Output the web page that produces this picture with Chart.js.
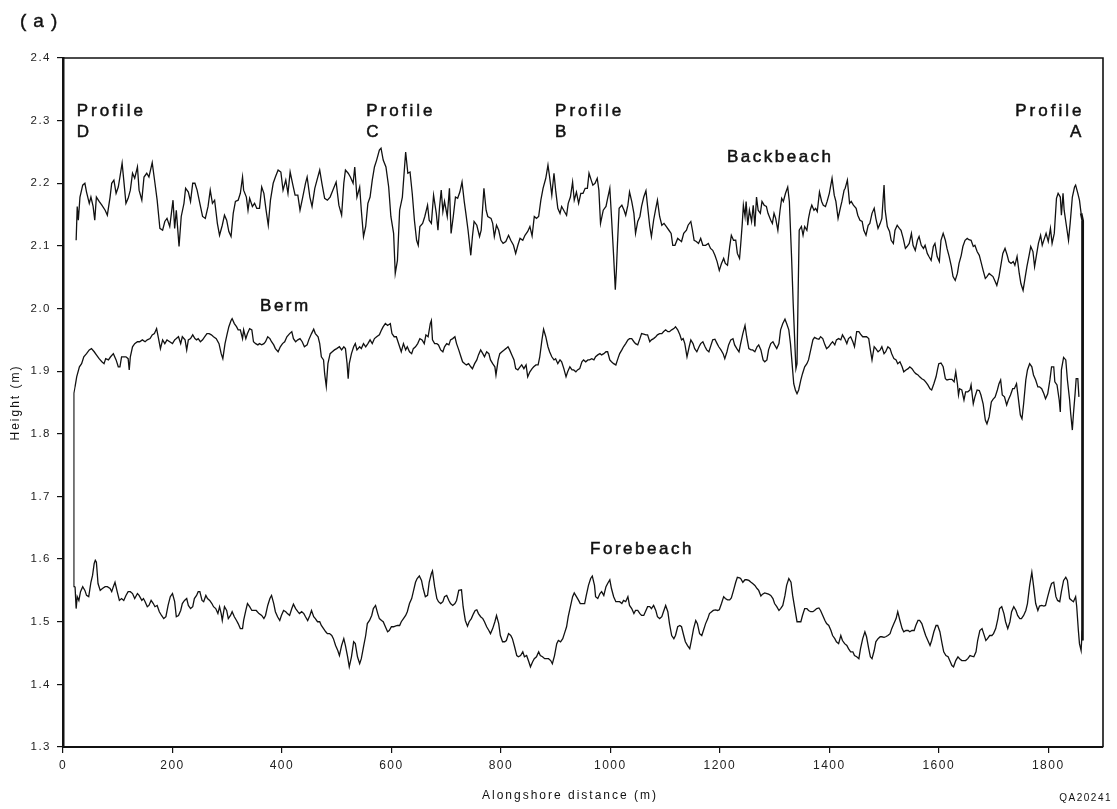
<!DOCTYPE html>
<html><head><meta charset="utf-8">
<script src="https://cdn.jsdelivr.net/npm/chart.js@4.4.1/dist/chart.umd.min.js"></script>
<style>html,body{margin:0;padding:0;background:#fff;}canvas{display:block;}</style>
</head><body>
<canvas id="c" width="1117" height="809"></canvas>
<script>
// [alongshore distance (m), height (m)]
const backbeach = [[24,2.109],[26,2.163],[28,2.141],[31,2.178],[36,2.197],[40,2.200],[43,2.186],[48,2.168],[51,2.178],[55,2.163],[58,2.141],[61,2.178],[66,2.171],[71,2.165],[77,2.157],[81,2.149],[86,2.178],[89,2.200],[93,2.205],[97,2.184],[101,2.194],[104,2.210],[108,2.232],[111,2.205],[115,2.168],[119,2.176],[123,2.189],[127,2.216],[131,2.208],[136,2.226],[139,2.189],[144,2.173],[148,2.210],[153,2.216],[157,2.210],[163,2.233],[168,2.200],[172,2.173],[177,2.128],[182,2.125],[186,2.139],[190,2.144],[195,2.131],[198,2.152],[201,2.173],[204,2.128],[207,2.157],[212,2.099],[216,2.147],[221,2.168],[224,2.192],[229,2.186],[233,2.171],[237,2.200],[241,2.200],[245,2.189],[250,2.168],[255,2.147],[260,2.144],[265,2.163],[269,2.189],[273,2.168],[277,2.173],[282,2.136],[286,2.117],[291,2.133],[295,2.149],[299,2.141],[303,2.123],[307,2.115],[311,2.152],[315,2.171],[320,2.173],[324,2.184],[328,2.210],[330,2.189],[335,2.178],[338,2.157],[341,2.176],[346,2.163],[350,2.168],[354,2.160],[359,2.160],[363,2.194],[367,2.184],[371,2.157],[375,2.133],[379,2.173],[384,2.200],[388,2.210],[393,2.221],[398,2.218],[402,2.189],[407,2.205],[411,2.184],[415,2.218],[420,2.197],[424,2.181],[429,2.181],[433,2.157],[438,2.178],[443,2.200],[446,2.210],[451,2.178],[455,2.163],[460,2.192],[464,2.205],[469,2.221],[473,2.200],[478,2.176],[483,2.173],[488,2.178],[493,2.189],[499,2.202],[504,2.165],[509,2.149],[513,2.200],[516,2.221],[521,2.216],[525,2.210],[530,2.200],[533,2.226],[537,2.178],[542,2.194],[545,2.157],[549,2.115],[553,2.131],[557,2.168],[561,2.178],[565,2.205],[569,2.226],[573,2.237],[578,2.253],[581,2.256],[585,2.237],[590,2.226],[595,2.194],[599,2.147],[604,2.120],[607,2.056],[611,2.077],[615,2.157],[620,2.178],[626,2.250],[630,2.216],[634,2.218],[638,2.184],[642,2.141],[646,2.109],[649,2.101],[652,2.131],[657,2.136],[661,2.147],[666,2.165],[669,2.141],[673,2.136],[677,2.181],[682,2.152],[685,2.125],[688,2.163],[691,2.189],[694,2.155],[697,2.171],[702,2.147],[706,2.192],[709,2.120],[713,2.147],[717,2.178],[721,2.176],[725,2.186],[729,2.202],[733,2.171],[736,2.152],[740,2.125],[745,2.085],[748,2.115],[751,2.139],[756,2.133],[761,2.115],[764,2.125],[769,2.192],[773,2.157],[776,2.147],[782,2.144],[785,2.136],[788,2.115],[792,2.133],[796,2.125],[800,2.109],[804,2.104],[809,2.107],[814,2.117],[818,2.109],[823,2.101],[827,2.088],[831,2.101],[835,2.112],[840,2.109],[844,2.117],[849,2.123],[853,2.131],[857,2.116],[861,2.147],[865,2.144],[869,2.147],[873,2.173],[877,2.192],[882,2.208],[886,2.229],[889,2.210],[893,2.181],[897,2.216],[900,2.189],[904,2.160],[908,2.152],[911,2.163],[916,2.155],[920,2.149],[923,2.168],[927,2.178],[931,2.202],[934,2.173],[938,2.186],[942,2.168],[946,2.184],[950,2.184],[954,2.192],[958,2.192],[961,2.216],[965,2.205],[968,2.197],[972,2.200],[976,2.208],[979,2.189],[982,2.136],[987,2.157],[992,2.163],[995,2.176],[999,2.192],[1002,2.147],[1006,2.083],[1009,2.030],[1011,2.061],[1013,2.104],[1016,2.160],[1021,2.165],[1025,2.157],[1028,2.149],[1032,2.165],[1035,2.186],[1039,2.171],[1043,2.152],[1046,2.120],[1050,2.139],[1054,2.147],[1057,2.163],[1061,2.178],[1065,2.188],[1068,2.163],[1072,2.131],[1075,2.115],[1079,2.141],[1083,2.160],[1086,2.173],[1090,2.147],[1094,2.133],[1098,2.136],[1102,2.131],[1107,2.125],[1111,2.120],[1114,2.101],[1118,2.101],[1123,2.112],[1127,2.109],[1130,2.107],[1134,2.120],[1139,2.125],[1142,2.133],[1147,2.139],[1150,2.125],[1153,2.109],[1157,2.107],[1161,2.104],[1165,2.112],[1169,2.101],[1174,2.101],[1179,2.104],[1183,2.096],[1187,2.093],[1191,2.085],[1195,2.075],[1199,2.061],[1203,2.072],[1207,2.080],[1210,2.072],[1214,2.069],[1218,2.099],[1221,2.117],[1225,2.109],[1229,2.109],[1232,2.088],[1236,2.080],[1238,2.101],[1241,2.136],[1243,2.165],[1246,2.147],[1248,2.171],[1251,2.133],[1254,2.157],[1258,2.139],[1261,2.165],[1264,2.131],[1267,2.178],[1270,2.157],[1274,2.152],[1277,2.171],[1281,2.165],[1285,2.163],[1288,2.152],[1293,2.141],[1296,2.136],[1299,2.152],[1302,2.144],[1306,2.125],[1310,2.157],[1313,2.176],[1316,2.171],[1320,2.184],[1324,2.194],[1327,2.171],[1331,2.083],[1334,2.008],[1337,1.944],[1339,1.904],[1341,1.912],[1343,2.024],[1345,2.125],[1349,2.131],[1352,2.117],[1355,2.131],[1359,2.125],[1362,2.144],[1365,2.157],[1368,2.165],[1372,2.157],[1375,2.160],[1378,2.155],[1382,2.186],[1386,2.171],[1389,2.165],[1393,2.163],[1396,2.171],[1400,2.184],[1405,2.208],[1409,2.181],[1412,2.171],[1416,2.144],[1420,2.160],[1423,2.171],[1427,2.189],[1429,2.192],[1433,2.205],[1437,2.168],[1440,2.171],[1444,2.165],[1449,2.160],[1452,2.149],[1456,2.141],[1460,2.139],[1463,2.125],[1467,2.117],[1471,2.133],[1474,2.136],[1478,2.152],[1482,2.160],[1485,2.144],[1489,2.128],[1493,2.136],[1496,2.144],[1500,2.197],[1502,2.157],[1506,2.131],[1510,2.123],[1513,2.109],[1517,2.104],[1520,2.125],[1524,2.133],[1528,2.128],[1531,2.125],[1535,2.112],[1539,2.096],[1542,2.099],[1546,2.104],[1550,2.120],[1553,2.101],[1557,2.093],[1561,2.109],[1564,2.115],[1568,2.101],[1572,2.096],[1575,2.101],[1579,2.088],[1582,2.083],[1586,2.077],[1590,2.099],[1593,2.104],[1597,2.083],[1601,2.075],[1604,2.109],[1608,2.120],[1612,2.109],[1615,2.096],[1619,2.083],[1623,2.067],[1626,2.051],[1630,2.045],[1634,2.056],[1637,2.072],[1641,2.085],[1644,2.099],[1648,2.109],[1652,2.112],[1655,2.110],[1659,2.109],[1663,2.099],[1666,2.101],[1670,2.091],[1674,2.085],[1677,2.075],[1681,2.061],[1685,2.048],[1688,2.051],[1692,2.056],[1696,2.053],[1699,2.051],[1703,2.043],[1706,2.037],[1710,2.051],[1714,2.072],[1717,2.088],[1721,2.096],[1725,2.085],[1728,2.075],[1732,2.072],[1736,2.075],[1739,2.069],[1743,2.083],[1747,2.056],[1750,2.040],[1754,2.029],[1758,2.051],[1761,2.067],[1765,2.085],[1768,2.099],[1772,2.091],[1775,2.067],[1778,2.083],[1782,2.104],[1786,2.117],[1789,2.101],[1793,2.112],[1796,2.120],[1800,2.107],[1804,2.128],[1807,2.104],[1811,2.120],[1815,2.176],[1818,2.184],[1822,2.178],[1824,2.149],[1827,2.184],[1829,2.157],[1833,2.133],[1837,2.109],[1840,2.136],[1844,2.178],[1848,2.194],[1850,2.197],[1854,2.184],[1857,2.173],[1860,2.152]];

const berm = [[22,1.875],[25,1.891],[30,1.907],[34,1.912],[38,1.923],[43,1.928],[48,1.934],[52,1.936],[57,1.931],[61,1.926],[66,1.920],[71,1.915],[75,1.912],[78,1.920],[83,1.918],[87,1.923],[92,1.928],[97,1.918],[101,1.907],[104,1.907],[107,1.923],[111,1.923],[115,1.923],[119,1.920],[121,1.902],[123,1.923],[127,1.939],[131,1.944],[136,1.947],[140,1.947],[145,1.950],[150,1.947],[154,1.950],[159,1.952],[163,1.958],[167,1.960],[171,1.968],[175,1.950],[178,1.936],[182,1.950],[186,1.944],[190,1.950],[195,1.947],[200,1.944],[204,1.950],[207,1.952],[211,1.955],[215,1.944],[218,1.955],[223,1.950],[226,1.934],[229,1.950],[233,1.952],[237,1.958],[241,1.952],[244,1.950],[247,1.952],[251,1.947],[255,1.950],[259,1.955],[263,1.960],[267,1.960],[271,1.958],[275,1.955],[280,1.952],[285,1.944],[289,1.928],[292,1.920],[296,1.944],[300,1.960],[303,1.971],[307,1.981],[309,1.984],[313,1.976],[317,1.971],[320,1.966],[324,1.966],[328,1.952],[330,1.966],[334,1.952],[337,1.960],[341,1.968],[345,1.966],[348,1.947],[352,1.944],[356,1.942],[359,1.944],[363,1.942],[367,1.944],[370,1.947],[374,1.955],[378,1.952],[381,1.947],[385,1.942],[388,1.936],[393,1.931],[397,1.939],[401,1.944],[405,1.947],[409,1.955],[414,1.960],[418,1.963],[421,1.952],[425,1.947],[429,1.950],[433,1.952],[437,1.947],[441,1.939],[446,1.942],[449,1.950],[454,1.960],[458,1.967],[461,1.960],[466,1.955],[469,1.944],[472,1.923],[476,1.918],[478,1.896],[481,1.876],[484,1.912],[488,1.928],[492,1.931],[496,1.934],[500,1.936],[505,1.939],[509,1.934],[513,1.939],[516,1.936],[519,1.912],[521,1.888],[523,1.912],[527,1.928],[531,1.939],[534,1.944],[537,1.934],[542,1.939],[545,1.936],[549,1.944],[553,1.939],[557,1.944],[561,1.950],[565,1.944],[569,1.952],[573,1.955],[578,1.958],[582,1.966],[585,1.971],[589,1.976],[593,1.973],[598,1.976],[601,1.960],[605,1.955],[609,1.955],[612,1.947],[615,1.939],[618,1.931],[622,1.944],[626,1.934],[629,1.939],[633,1.931],[637,1.928],[640,1.936],[644,1.939],[648,1.944],[652,1.952],[656,1.950],[660,1.944],[663,1.958],[667,1.955],[671,1.976],[673,1.981],[675,1.950],[679,1.944],[683,1.944],[686,1.942],[690,1.934],[694,1.931],[697,1.939],[701,1.944],[705,1.942],[708,1.950],[712,1.952],[716,1.955],[719,1.944],[723,1.934],[727,1.923],[730,1.915],[734,1.912],[737,1.910],[741,1.912],[745,1.907],[748,1.904],[752,1.912],[756,1.918],[759,1.926],[763,1.934],[767,1.928],[770,1.923],[774,1.931],[778,1.928],[781,1.918],[785,1.912],[789,1.907],[791,1.894],[795,1.918],[798,1.928],[802,1.931],[806,1.934],[809,1.936],[813,1.939],[816,1.934],[820,1.926],[824,1.918],[827,1.904],[831,1.902],[835,1.907],[838,1.910],[842,1.904],[846,1.910],[849,1.891],[853,1.899],[857,1.904],[860,1.907],[864,1.910],[868,1.910],[871,1.923],[875,1.950],[878,1.967],[882,1.955],[886,1.939],[889,1.931],[893,1.923],[897,1.918],[900,1.920],[904,1.912],[908,1.918],[911,1.915],[915,1.904],[919,1.891],[922,1.899],[926,1.907],[930,1.902],[933,1.902],[937,1.899],[940,1.902],[944,1.904],[948,1.915],[951,1.918],[955,1.915],[959,1.918],[962,1.918],[966,1.920],[970,1.918],[973,1.923],[977,1.926],[981,1.928],[984,1.926],[988,1.928],[992,1.931],[995,1.931],[999,1.918],[1002,1.915],[1006,1.912],[1010,1.910],[1013,1.918],[1017,1.928],[1021,1.934],[1024,1.939],[1028,1.944],[1032,1.950],[1035,1.952],[1039,1.952],[1043,1.947],[1046,1.944],[1050,1.942],[1054,1.952],[1057,1.960],[1061,1.959],[1065,1.958],[1068,1.958],[1072,1.947],[1075,1.950],[1079,1.952],[1083,1.955],[1086,1.958],[1090,1.960],[1094,1.960],[1097,1.963],[1101,1.966],[1105,1.963],[1108,1.963],[1112,1.966],[1116,1.968],[1119,1.971],[1123,1.966],[1127,1.958],[1130,1.950],[1133,1.952],[1136,1.944],[1140,1.923],[1144,1.939],[1147,1.950],[1151,1.944],[1154,1.936],[1158,1.931],[1162,1.939],[1165,1.944],[1169,1.947],[1173,1.939],[1176,1.934],[1180,1.931],[1184,1.942],[1187,1.950],[1191,1.951],[1195,1.944],[1198,1.939],[1202,1.934],[1206,1.928],[1209,1.920],[1213,1.931],[1216,1.942],[1220,1.950],[1224,1.952],[1227,1.942],[1231,1.936],[1235,1.931],[1238,1.944],[1242,1.960],[1246,1.973],[1249,1.955],[1253,1.936],[1257,1.934],[1260,1.934],[1264,1.931],[1268,1.939],[1271,1.942],[1275,1.934],[1279,1.918],[1282,1.915],[1286,1.918],[1289,1.934],[1293,1.944],[1297,1.947],[1300,1.942],[1304,1.936],[1308,1.944],[1311,1.966],[1315,1.976],[1319,1.983],[1322,1.976],[1326,1.966],[1329,1.944],[1332,1.912],[1335,1.880],[1338,1.870],[1341,1.864],[1344,1.870],[1348,1.886],[1351,1.896],[1355,1.907],[1359,1.912],[1362,1.918],[1366,1.934],[1370,1.950],[1373,1.954],[1377,1.952],[1381,1.951],[1384,1.955],[1388,1.952],[1392,1.942],[1395,1.936],[1399,1.939],[1403,1.944],[1406,1.947],[1410,1.942],[1413,1.950],[1417,1.952],[1421,1.950],[1424,1.958],[1428,1.952],[1432,1.944],[1435,1.952],[1439,1.955],[1443,1.947],[1446,1.939],[1450,1.963],[1454,1.963],[1457,1.959],[1461,1.955],[1465,1.955],[1468,1.955],[1472,1.952],[1475,1.934],[1478,1.918],[1482,1.939],[1485,1.936],[1489,1.931],[1493,1.934],[1496,1.939],[1500,1.928],[1503,1.931],[1507,1.939],[1511,1.936],[1514,1.928],[1518,1.920],[1522,1.918],[1525,1.912],[1529,1.915],[1533,1.907],[1536,1.899],[1540,1.902],[1544,1.904],[1547,1.907],[1551,1.904],[1555,1.899],[1558,1.896],[1562,1.894],[1565,1.891],[1569,1.888],[1573,1.886],[1576,1.883],[1580,1.878],[1584,1.872],[1587,1.870],[1591,1.880],[1595,1.891],[1598,1.904],[1600,1.912],[1604,1.913],[1608,1.907],[1612,1.888],[1615,1.886],[1619,1.887],[1624,1.887],[1628,1.883],[1631,1.899],[1634,1.880],[1636,1.862],[1638,1.872],[1642,1.870],[1646,1.854],[1649,1.867],[1653,1.867],[1657,1.870],[1659,1.878],[1663,1.848],[1666,1.859],[1670,1.870],[1674,1.869],[1677,1.862],[1681,1.848],[1685,1.822],[1688,1.816],[1692,1.827],[1696,1.851],[1699,1.855],[1703,1.859],[1707,1.870],[1710,1.880],[1713,1.886],[1716,1.862],[1720,1.859],[1724,1.846],[1727,1.854],[1731,1.862],[1735,1.872],[1738,1.872],[1742,1.880],[1745,1.859],[1749,1.830],[1752,1.824],[1755,1.848],[1759,1.886],[1762,1.902],[1766,1.912],[1770,1.907],[1773,1.894],[1777,1.886],[1781,1.875],[1784,1.875],[1788,1.872],[1792,1.864],[1795,1.856],[1799,1.864],[1803,1.886],[1806,1.907],[1810,1.907],[1812,1.883],[1816,1.878],[1820,1.854],[1822,1.835],[1824,1.902],[1828,1.922],[1832,1.918],[1835,1.886],[1839,1.854],[1841,1.832],[1844,1.806],[1846,1.832],[1849,1.864],[1851,1.888],[1854,1.888],[1856,1.859]];

const forebeach = [[22,1.556],[24,1.521],[26,1.540],[29,1.534],[32,1.548],[36,1.556],[40,1.550],[43,1.542],[47,1.540],[51,1.563],[54,1.574],[57,1.593],[59,1.598],[61,1.595],[64,1.561],[68,1.550],[72,1.553],[77,1.556],[81,1.556],[86,1.553],[89,1.548],[92,1.556],[95,1.563],[99,1.548],[103,1.534],[107,1.537],[111,1.534],[115,1.542],[119,1.548],[123,1.548],[127,1.545],[131,1.537],[136,1.545],[139,1.542],[144,1.534],[147,1.537],[150,1.532],[154,1.524],[157,1.526],[161,1.534],[165,1.529],[168,1.524],[172,1.526],[176,1.516],[180,1.510],[184,1.505],[188,1.508],[192,1.526],[196,1.540],[200,1.545],[204,1.532],[207,1.508],[211,1.510],[215,1.518],[218,1.529],[222,1.534],[226,1.537],[229,1.526],[233,1.521],[237,1.524],[240,1.537],[244,1.542],[247,1.548],[250,1.548],[254,1.534],[257,1.532],[261,1.542],[264,1.537],[268,1.534],[272,1.529],[275,1.524],[279,1.521],[283,1.513],[286,1.524],[289,1.513],[291,1.502],[295,1.524],[299,1.518],[302,1.505],[306,1.510],[309,1.516],[313,1.508],[317,1.502],[320,1.497],[324,1.489],[328,1.489],[330,1.502],[334,1.518],[337,1.529],[341,1.524],[345,1.518],[348,1.518],[353,1.518],[358,1.513],[363,1.510],[367,1.505],[370,1.510],[374,1.526],[378,1.537],[381,1.542],[385,1.529],[388,1.516],[392,1.508],[396,1.502],[399,1.510],[403,1.518],[407,1.516],[410,1.513],[414,1.510],[418,1.521],[421,1.528],[425,1.521],[429,1.516],[432,1.513],[436,1.516],[440,1.513],[443,1.508],[447,1.502],[451,1.510],[454,1.518],[458,1.508],[461,1.505],[465,1.500],[469,1.500],[472,1.494],[476,1.489],[480,1.484],[483,1.481],[487,1.481],[491,1.478],[494,1.473],[498,1.462],[502,1.454],[505,1.446],[509,1.462],[513,1.473],[516,1.462],[520,1.444],[523,1.428],[527,1.444],[531,1.468],[534,1.465],[538,1.444],[542,1.433],[545,1.441],[549,1.460],[553,1.478],[556,1.497],[560,1.502],[564,1.510],[567,1.521],[571,1.526],[575,1.513],[578,1.505],[582,1.502],[585,1.500],[589,1.492],[593,1.484],[596,1.486],[600,1.492],[604,1.492],[607,1.493],[611,1.494],[615,1.494],[618,1.500],[622,1.505],[626,1.510],[629,1.516],[633,1.529],[637,1.537],[640,1.548],[644,1.563],[647,1.569],[651,1.573],[655,1.566],[658,1.553],[662,1.540],[666,1.542],[669,1.563],[673,1.577],[675,1.581],[679,1.556],[683,1.537],[686,1.532],[690,1.529],[694,1.532],[697,1.540],[701,1.542],[705,1.534],[708,1.529],[712,1.526],[716,1.529],[719,1.534],[723,1.550],[728,1.551],[731,1.524],[735,1.502],[739,1.493],[742,1.500],[746,1.505],[750,1.513],[753,1.518],[756,1.519],[759,1.513],[763,1.508],[767,1.505],[770,1.500],[774,1.492],[778,1.486],[781,1.481],[785,1.489],[789,1.500],[792,1.510],[796,1.497],[799,1.478],[803,1.468],[807,1.468],[810,1.470],[814,1.481],[818,1.478],[821,1.473],[825,1.460],[829,1.446],[832,1.444],[836,1.446],[840,1.452],[843,1.444],[847,1.446],[851,1.436],[854,1.428],[858,1.436],[861,1.441],[865,1.444],[869,1.452],[872,1.446],[876,1.444],[880,1.441],[883,1.441],[887,1.441],[891,1.438],[894,1.433],[898,1.446],[902,1.465],[905,1.470],[909,1.468],[913,1.473],[916,1.481],[920,1.492],[923,1.508],[927,1.524],[931,1.540],[934,1.546],[938,1.540],[942,1.534],[945,1.529],[949,1.529],[953,1.529],[956,1.542],[960,1.558],[964,1.569],[967,1.573],[971,1.558],[973,1.540],[977,1.537],[981,1.545],[984,1.548],[988,1.542],[992,1.556],[995,1.561],[999,1.567],[1002,1.553],[1006,1.540],[1010,1.532],[1013,1.532],[1017,1.532],[1021,1.529],[1024,1.534],[1028,1.532],[1032,1.540],[1035,1.526],[1039,1.521],[1043,1.513],[1046,1.518],[1050,1.518],[1054,1.513],[1057,1.510],[1061,1.510],[1065,1.518],[1068,1.524],[1072,1.524],[1075,1.521],[1079,1.526],[1083,1.518],[1086,1.508],[1090,1.505],[1094,1.508],[1097,1.516],[1101,1.526],[1105,1.516],[1108,1.497],[1112,1.478],[1116,1.473],[1119,1.478],[1123,1.492],[1127,1.494],[1130,1.492],[1134,1.478],[1137,1.468],[1141,1.462],[1145,1.457],[1148,1.470],[1152,1.489],[1156,1.502],[1159,1.497],[1163,1.481],[1167,1.478],[1170,1.486],[1174,1.497],[1178,1.505],[1181,1.513],[1185,1.516],[1188,1.518],[1192,1.519],[1196,1.518],[1199,1.519],[1203,1.529],[1207,1.540],[1210,1.537],[1214,1.535],[1218,1.535],[1221,1.538],[1225,1.550],[1229,1.563],[1232,1.571],[1236,1.570],[1238,1.569],[1242,1.563],[1246,1.567],[1249,1.567],[1253,1.566],[1257,1.563],[1260,1.561],[1264,1.558],[1268,1.553],[1271,1.550],[1275,1.541],[1278,1.544],[1282,1.546],[1286,1.545],[1289,1.544],[1293,1.542],[1297,1.537],[1300,1.529],[1304,1.524],[1308,1.518],[1311,1.521],[1315,1.526],[1319,1.542],[1322,1.558],[1326,1.569],[1330,1.563],[1333,1.542],[1337,1.521],[1341,1.500],[1344,1.500],[1348,1.500],[1351,1.510],[1355,1.521],[1359,1.521],[1362,1.518],[1366,1.516],[1370,1.516],[1373,1.518],[1377,1.521],[1381,1.522],[1384,1.518],[1388,1.510],[1392,1.502],[1395,1.497],[1399,1.494],[1403,1.486],[1406,1.478],[1410,1.473],[1413,1.468],[1417,1.465],[1421,1.478],[1424,1.470],[1428,1.465],[1432,1.462],[1435,1.457],[1439,1.452],[1443,1.452],[1446,1.446],[1450,1.444],[1454,1.441],[1457,1.457],[1461,1.473],[1465,1.484],[1468,1.476],[1472,1.457],[1475,1.444],[1478,1.441],[1482,1.454],[1485,1.468],[1489,1.473],[1493,1.476],[1496,1.476],[1500,1.475],[1503,1.476],[1507,1.478],[1511,1.481],[1514,1.489],[1518,1.497],[1522,1.505],[1525,1.516],[1529,1.502],[1533,1.489],[1536,1.484],[1540,1.486],[1544,1.486],[1547,1.484],[1551,1.486],[1555,1.486],[1558,1.494],[1562,1.502],[1565,1.502],[1569,1.497],[1573,1.486],[1576,1.478],[1580,1.470],[1584,1.462],[1587,1.470],[1591,1.484],[1595,1.494],[1598,1.494],[1602,1.484],[1606,1.465],[1609,1.452],[1613,1.446],[1617,1.444],[1620,1.438],[1624,1.430],[1627,1.428],[1631,1.438],[1635,1.444],[1638,1.441],[1642,1.438],[1646,1.438],[1649,1.438],[1653,1.441],[1657,1.446],[1660,1.445],[1664,1.444],[1668,1.452],[1671,1.470],[1675,1.486],[1679,1.489],[1682,1.481],[1686,1.470],[1689,1.473],[1693,1.478],[1697,1.478],[1700,1.481],[1704,1.489],[1708,1.505],[1711,1.521],[1715,1.524],[1719,1.513],[1722,1.500],[1726,1.489],[1730,1.500],[1733,1.516],[1737,1.524],[1741,1.518],[1744,1.510],[1748,1.505],[1751,1.505],[1755,1.510],[1759,1.518],[1762,1.529],[1766,1.558],[1770,1.579],[1773,1.558],[1777,1.529],[1781,1.518],[1784,1.525],[1788,1.526],[1792,1.525],[1795,1.526],[1799,1.540],[1803,1.553],[1806,1.561],[1810,1.563],[1814,1.540],[1817,1.534],[1821,1.532],[1824,1.548],[1828,1.566],[1832,1.571],[1835,1.566],[1839,1.537],[1843,1.534],[1846,1.532],[1850,1.540],[1852,1.524],[1855,1.486],[1857,1.465],[1860,1.454],[1862,1.486]];

// vertical tracer runs joining the profiles at both ends
const joinStart = [[22,1.875],[20,1.865],[20,1.556],[22,1.556]];
const joinEnd = [[1860,2.152],[1863,2.14],[1863,1.47],[1862,1.486]];

const xTickValues = [0,200,400,600,800,1000,1200,1400,1600,1800];
const xTickLabels = ['0','200','400','600','800','1000','1200','1400','1600','1800'];
const yTickValues = [1.3,1.4,1.5,1.6,1.7,1.8,1.9,2.0,2.1,2.2,2.3,2.4];
const yTickLabels = ['1.3','1.4','1.5','1.6','1.7','1.8','1.9','2.0','2.1','2.2','2.3','2.4'];
const seriesNames = ['Backbeach','Berm','Forebeach'];

const FONT = "'Liberation Sans', Arial, sans-serif";
const INK = '#111';
const toXY = a => a.map(p => ({x: p[0], y: p[1]}));
const lineDs = (label, arr, w) => ({label, data: toXY(arr), borderColor: INK, borderWidth: w, pointRadius: 0, pointHoverRadius: 0, tension: 0, fill: false});

const textPlugin = {
  id: 'texts',
  beforeDraw(chart) { chart.ctx.letterSpacing = '1.5px'; },
  afterDraw(chart) {
    const {ctx, chartArea: a, scales} = chart;
    const xs = scales.x, ys = scales.y;
    ctx.save();
    ctx.strokeStyle = INK; ctx.lineWidth = 1.6;
    ctx.beginPath();
    ctx.moveTo(a.left, a.top); ctx.lineTo(a.right, a.top); ctx.lineTo(a.right, a.bottom);
    ctx.stroke();
    const txt = (s, x, y, size, ls, align, bold) => {
      ctx.font = size + 'px ' + FONT;
      ctx.letterSpacing = ls + 'px';
      ctx.fillStyle = INK;
      ctx.textAlign = align || 'left';
      ctx.textBaseline = 'middle';
      ctx.fillText(s, x, y);
      if (bold) { ctx.strokeStyle = INK; ctx.lineWidth = bold; ctx.strokeText(s, x, y); }
    };
    const px = v => xs.getPixelForValue(v), py = v => ys.getPixelForValue(v);
    // profile markers
    txt('Profile', px(25), py(2.315), 17, 3, 'left', 0.5);
    txt('D', px(25), py(2.282), 17, 3, 'left', 0.5);
    txt('Profile', px(554), py(2.315), 17, 3, 'left', 0.5);
    txt('C', px(554), py(2.282), 17, 3, 'left', 0.5);
    txt('Profile', px(899), py(2.315), 17, 3, 'left', 0.5);
    txt('B', px(899), py(2.282), 17, 3, 'left', 0.5);
    txt('Profile', px(1866), py(2.315), 17, 3, 'right', 0.5);
    txt('A', px(1866), py(2.282), 17, 3, 'right', 0.5);
    // series names
    txt(seriesNames[0], px(1213), py(2.242), 17, 2.5, 'left', 0.5);
    txt(seriesNames[1], px(360), py(2.003), 17, 2.5, 'left', 0.5);
    txt(seriesNames[2], px(963), py(1.616), 17, 2.5, 'left', 0.5);
    // panel tag, axis titles, figure code
    txt('(a)', 20, 22, 19, 7, 'left', 0.4);
    txt('Alongshore distance (m)', 570, 796, 12, 2, 'center');
    txt('QA20241', 1112, 798, 10, 1.5, 'right');
    ctx.save();
    ctx.translate(16, (a.top + a.bottom) / 2);
    ctx.rotate(-Math.PI / 2);
    txt('Height (m)', 0, 0, 12, 2, 'center');
    ctx.restore();
    ctx.restore();
  }
};

new Chart(document.getElementById('c'), {
  type: 'line',
  data: {
    datasets: [
      lineDs(seriesNames[0], backbeach, 1.3),
      lineDs(seriesNames[1], berm, 1.3),
      lineDs(seriesNames[2], forebeach, 1.3),
      lineDs('joinStart', joinStart, 1.1),
      lineDs('joinEnd', joinEnd, 2.6)
    ]
  },
  options: {
    responsive: false,
    animation: false,
    devicePixelRatio: 1,
    layout: {padding: {left: 0, right: 14, top: 58, bottom: 0}},
    plugins: {legend: {display: false}, tooltip: {enabled: false}, title: {display: false}},
    scales: {
      x: {
        type: 'linear', min: 0, max: 1900,
        afterFit: s => { s.height = 62; },
        afterBuildTicks: s => { s.ticks = xTickValues.map(v => ({value: v})); },
        ticks: {includeBounds: false, padding: 5, color: '#222', font: {family: FONT, size: 12},
                callback: (v, i) => xTickLabels[i], maxRotation: 0, autoSkip: false},
        grid: {drawOnChartArea: false, drawTicks: true, tickLength: 6, color: INK, lineWidth: 1.2},
        border: {display: true, color: INK, width: 2}
      },
      y: {
        type: 'linear', min: 1.3, max: 2.4,
        afterFit: s => { s.width = 63; },
        afterBuildTicks: s => { s.ticks = yTickValues.map(v => ({value: v})); },
        ticks: {padding: 6, color: '#222', font: {family: FONT, size: 11.5},
                callback: (v, i) => yTickLabels[i], autoSkip: false},
        grid: {drawOnChartArea: false, drawTicks: true, tickLength: 6, color: INK, lineWidth: 1.2},
        border: {display: true, color: INK, width: 2.5}
      }
    }
  },
  plugins: [textPlugin]
});
</script>
</body></html>
